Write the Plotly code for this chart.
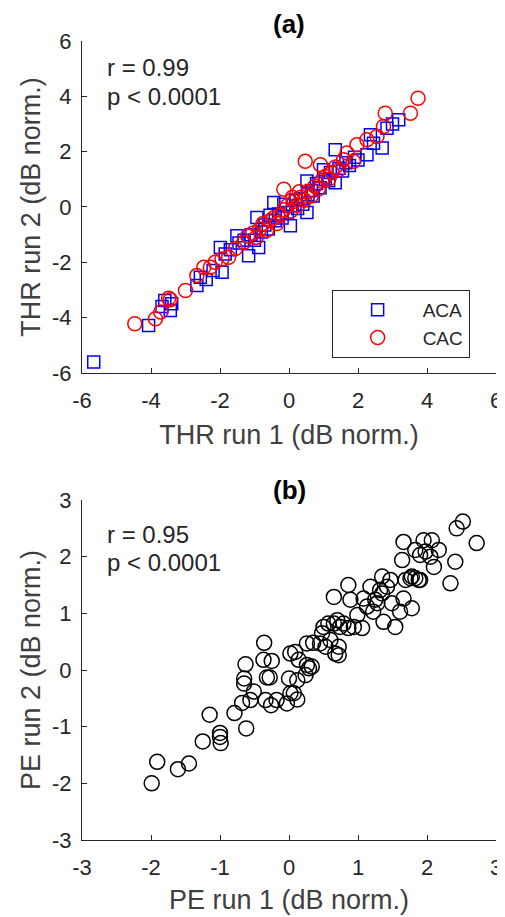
import plotly.graph_objects as go

# ---- Panel (a): THR run 1 vs run 2 ----
aca_x = [-5.66, -4.07, -3.68, -3.60, -3.44, -3.40, -2.67, -2.57, -2.40, -2.20, -1.94, -1.99, -1.85, -1.70,
         -1.51, -1.45, -1.30, -1.17, -1.10, -1.00, -0.88, -0.93, -0.80, -0.70, -0.60, -0.55, -0.44, -0.40,
         -0.30, -0.20, -0.15, -0.05, 0.04, 0.10, 0.20, 0.25, 0.35, 0.40, 0.52, 0.52, 0.55, 0.65, 0.70, 0.80,
         0.90, 1.00, 1.05, 1.15, 1.20, 1.34, 1.34, 1.45, 1.55, 1.65, 1.75, 1.90, 2.00, 2.26, 2.36, 2.45,
         2.70, 2.84, 3.00, 3.18]
aca_y = [-5.60, -4.28, -3.60, -3.38, -3.74, -3.50, -2.84, -2.54, -2.62, -2.30, -2.36, -1.46, -1.70, -1.55,
         -1.04, -1.30, -1.20, -1.76, -1.00, -1.20, -1.46, -0.38, -0.90, -0.65, -0.80, -0.30, 0.16, -0.50,
         -0.25, -0.40, 0.10, -0.20, -0.68, 0.05, 0.25, -0.05, 0.30, 0.10, -0.20, 0.94, 0.45, 0.60, 0.40, 0.85,
         0.70, 1.35, 1.00, 0.95, 1.25, 2.07, 0.88, 1.40, 1.30, 1.60, 1.50, 1.80, 1.70, 1.89, 2.61, 2.30,
         2.13, 2.85, 3.00, 3.15]

cac_x = [-4.47, -3.87, -3.72, -3.49, -3.44, -3.00, -2.67, -2.47, -2.28, -2.14, -1.94, -1.75, -1.55, -1.31,
         -1.20, -1.05, -0.95, -0.85, -0.75, -0.65, -0.55, -0.45, -0.35, -0.25, -0.15, -0.15, -0.05, 0.05,
         0.10, 0.15, 0.25, 0.30, 0.35, 0.45, 0.47, 0.55, 0.65, 0.75, 0.85, 0.91, 0.95, 1.05, 1.15, 1.25,
         1.35, 1.45, 1.58, 1.68, 1.87, 1.97, 2.26, 2.55, 2.74, 2.79, 3.52, 3.74]
cac_y = [-4.22, -4.04, -3.80, -3.30, -3.35, -3.02, -2.48, -2.18, -2.18, -2.00, -1.88, -1.82, -1.50, -1.28,
         -1.05, -0.95, -1.10, -0.80, -0.60, -0.85, -0.50, -0.40, -0.60, -0.30, 0.64, -0.10, 0.05, -0.15,
         0.35, 0.20, 0.05, 0.55, 0.35, 0.25, 1.65, 0.55, 0.40, 0.75, 0.65, 1.53, 0.95, 1.10, 1.00, 1.25,
         1.45, 1.35, 1.71, 1.95, 1.65, 2.25, 2.43, 2.55, 2.91, 3.39, 3.39, 3.93]

# ---- Panel (b): PE run 1 vs run 2 ----
pe_x = [-1.99, -1.91, -1.61, -1.45, -1.25, -1.15, -1.00, -0.99, -1.00, -0.79, -0.62, -0.68, -0.65, -0.65,
        -0.63, -0.56, -0.51, -0.36, -0.37, -0.25, -0.32, -0.28, -0.34, -0.26, -0.18, -0.03, 0.02, 0.12,
        0.00, 0.12, 0.02, 0.09, 0.14, 0.24, 0.29, 0.33, 0.26, 0.35, 0.45, 0.50, 0.53, 0.60, 0.65, 0.70,
        0.72, 0.72, 0.74, 0.79, 0.86, 0.94, 1.06, 0.99, 0.65, 0.86, 0.89, 1.08, 1.18, 1.22, 1.25, 1.35,
        1.37, 1.42, 1.47, 1.49, 1.54, 1.61, 1.66, 1.78, 1.69, 1.76, 1.83, 1.88, 1.64, 1.66, 1.83, 1.90,
        1.95, 1.98, 2.05, 2.07, 2.10, 2.17, 2.34, 2.41, 2.43, 2.52, 2.72, 1.35, 1.28, 0.48, 0.57, 0.67,
        0.07, 0.26, 1.90, 1.78, 1.32, 1.13]
pe_y = [-2.00, -1.62, -1.75, -1.65, -1.26, -0.79, -1.11, -1.29, -1.18, -0.76, -1.03, -0.58, -0.24, -0.15,
        0.10, -0.53, -0.38, 0.48, 0.18, 0.16, -0.13, -0.13, -0.53, -0.62, -0.53, -0.59, -0.41, -0.52,
        -0.15, -0.18, 0.29, 0.32, 0.18, -0.09, 0.03, 0.06, 0.47, 0.48, 0.47, 0.76, 0.41, 0.53, 0.82, 0.88,
        0.41, 0.26, 0.76, 0.82, 0.74, 0.76, 0.74, 0.97, 1.29, 1.50, 1.24, 1.26, 1.47, 1.03, 1.24, 1.65,
        0.85, 1.47, 1.59, 1.18, 0.76, 1.03, 1.26, 1.09, 1.59, 1.62, 1.62, 1.59, 1.94, 2.26, 2.12, 2.03,
        2.29, 2.09, 2.00, 2.29, 1.82, 2.12, 1.53, 1.91, 2.50, 2.62, 2.24, 1.35, 1.18, 0.65, 0.82, 0.29,
        -0.41, 0.09, 1.59, 1.65, 1.41, 1.12]

a_ticks = [-6, -4, -2, 0, 2, 4, 6]
a_ticktext = ["-6", "-4", "-2", "0", "2", "4", "6"]
b_ticks = [-3, -2, -1, 0, 1, 2, 3]
b_ticktext = ["-3", "-2", "-1", "0", "1", "2", "3"]

stats_a = ["r = 0.99", "p < 0.0001"]
stats_b = ["r = 0.95", "p < 0.0001"]

FONT = "Liberation Sans, Arial, Helvetica, sans-serif"
AX_COLOR = "#262626"

fig = go.Figure()
fig.add_trace(go.Scatter(x=aca_x, y=aca_y, mode="markers", name="ACA",
                         marker=dict(symbol="square-open", size=12, color="#0000ff",
                                     line=dict(width=1.5, color="#0000ff")),
                         xaxis="x", yaxis="y"))
fig.add_trace(go.Scatter(x=cac_x, y=cac_y, mode="markers", name="CAC",
                         marker=dict(symbol="circle-open", size=14, color="#ff0000",
                                     line=dict(width=1.5, color="#ff0000")),
                         xaxis="x", yaxis="y"))
fig.add_trace(go.Scatter(x=pe_x, y=pe_y, mode="markers", name="PE", showlegend=False,
                         marker=dict(symbol="circle-open", size=15, color="#000000",
                                     line=dict(width=1.5, color="#000000")),
                         xaxis="x2", yaxis="y2"))

axis_common = dict(showline=True, linecolor=AX_COLOR, linewidth=1, ticks="inside", ticklen=5,
                   tickcolor=AX_COLOR, tickwidth=1, showgrid=False, zeroline=False, mirror=False,
                   automargin=False,
                   tickfont=dict(family=FONT, size=22, color=AX_COLOR),
                   title_font=dict(family=FONT, size=27, color="#404040"))

fig.update_layout(
    width=497, height=909,
    margin=dict(l=74, r=9, t=33, b=77),
    paper_bgcolor="white", plot_bgcolor="white",
    showlegend=True,
    legend=dict(x=0.603, y=0.6884, xanchor="left", yanchor="top",
                bordercolor="#262626", borderwidth=1, bgcolor="white",
                font=dict(family=FONT, size=19, color="#262626"),
                itemwidth=80, tracegroupgap=0),
    xaxis=dict(domain=[0, 1], range=[-6, 6], tickvals=a_ticks, ticktext=a_ticktext, anchor="y",
               ticklabelstandoff=8,
               title=dict(text="THR run 1 (dB norm.)", standoff=12), **axis_common),
    yaxis=dict(domain=[0.5845, 1], range=[-6, 6], tickvals=a_ticks, ticktext=a_ticktext, anchor="x",
               ticklabelstandoff=5,
               title=dict(text="THR run 2 (dB norm.)", standoff=3), **axis_common),
    xaxis2=dict(domain=[0, 1], range=[-3, 3], tickvals=b_ticks, ticktext=b_ticktext, anchor="y2",
                ticklabelstandoff=8,
                title=dict(text="PE run 1 (dB norm.)", standoff=10), **axis_common),
    yaxis2=dict(domain=[0, 0.4255], range=[-3, 3], tickvals=b_ticks, ticktext=b_ticktext, anchor="x2",
                ticklabelstandoff=5,
                title=dict(text="PE run 2 (dB norm.)", standoff=3), **axis_common),
)

ann_font = dict(family=FONT, size=24, color="#262626")
title_font = dict(family=FONT, size=26, color="black")
fig.add_annotation(text="<b>(a)</b>", x=0.5, y=1, xref="x domain", yref="y domain",
                   xanchor="center", yanchor="middle", yshift=17, showarrow=False, font=title_font)
fig.add_annotation(text="<b>(b)</b>", x=0.5, y=1, xref="x2 domain", yref="y2 domain",
                   xanchor="center", yanchor="middle", yshift=10, showarrow=False, font=title_font)

for txt, yv in zip(stats_a, [5.05, 3.98]):
    fig.add_annotation(text=txt, x=-5.32, y=yv, xref="x", yref="y", xanchor="left", yanchor="middle",
                       showarrow=False, font=ann_font)
for txt, yv in zip(stats_b, [2.40, 1.89]):
    fig.add_annotation(text=txt, x=-2.66, y=yv, xref="x2", yref="y2", xanchor="left", yanchor="middle",
                       showarrow=False, font=ann_font)

fig.write_html("out.html")
